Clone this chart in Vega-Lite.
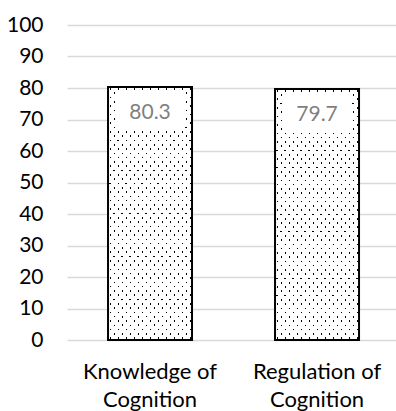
{
  "$schema": "https://vega.github.io/schema/vega-lite/v6.json",
  "autosize": "none",
  "width": 329,
  "height": 315,
  "padding": {"left": 67, "top": 25, "right": 0, "bottom": 71},
  "background": "white",
  "config": {"view": {"stroke": null}},
  "data": {
    "values": [
      {"component": "Knowledge of Cognition", "score": 80.3},
      {"component": "Regulation of Cognition", "score": 79.7}
    ]
  },
  "encoding": {
    "x": {
      "field": "component",
      "type": "nominal",
      "sort": null,
      "scale": {"paddingInner": 0.497, "paddingOuter": 0.2335, "align": 0.526},
      "axis": {
        "title": null,
        "domain": false,
        "ticks": false,
        "labelAngle": 0,
        "labelFont": "Lato",
        "labelFontSize": 22,
        "labelColor": "#000000",
        "labelBaseline": "top",
        "labelPadding": 21,
        "labelLineHeight": 28,
        "labelExpr": "[slice(datum.label, 0, indexof(datum.label, ' of ') + 3), slice(datum.label, indexof(datum.label, ' of ') + 4)]"
      }
    },
    "y": {
      "field": "score",
      "type": "quantitative",
      "scale": {"domain": [0, 100], "nice": false, "zero": true},
      "axis": {
        "title": null,
        "values": [0, 10, 20, 30, 40, 50, 60, 70, 80, 90, 100],
        "tickCount": 20,
        "labelOverlap": false,
        "domain": false,
        "ticks": false,
        "grid": true,
        "gridColor": "#d9d9d9",
        "gridWidth": 1.3,
        "labelFont": "Lato",
        "labelFontSize": 21,
        "labelColor": "#000000",
        "labelPadding": 24
      }
    }
  },
  "layer": [
    {
      "description": "Bar body, first family of diagonal black hairlines on white",
      "mark": {
        "type": "bar",
        "stroke": null,
        "fill": {
          "gradient": "linear",
          "x1": 0, "y1": 1, "x2": 0.42956, "y2": -0.20355,
          "stops": [
            {"offset": 0, "color": "#ffffff"},
            {"offset": 0.0097, "color": "#ffffff"}, {"offset": 0.0097, "color": "#000000"}, {"offset": 0.0153, "color": "#000000"}, {"offset": 0.0153, "color": "#ffffff"},
            {"offset": 0.0348, "color": "#ffffff"}, {"offset": 0.0348, "color": "#000000"}, {"offset": 0.0404, "color": "#000000"}, {"offset": 0.0404, "color": "#ffffff"},
            {"offset": 0.0598, "color": "#ffffff"}, {"offset": 0.0598, "color": "#000000"}, {"offset": 0.0654, "color": "#000000"}, {"offset": 0.0654, "color": "#ffffff"},
            {"offset": 0.0849, "color": "#ffffff"}, {"offset": 0.0849, "color": "#000000"}, {"offset": 0.0905, "color": "#000000"}, {"offset": 0.0905, "color": "#ffffff"},
            {"offset": 0.1099, "color": "#ffffff"}, {"offset": 0.1099, "color": "#000000"}, {"offset": 0.1155, "color": "#000000"}, {"offset": 0.1155, "color": "#ffffff"},
            {"offset": 0.1350, "color": "#ffffff"}, {"offset": 0.1350, "color": "#000000"}, {"offset": 0.1406, "color": "#000000"}, {"offset": 0.1406, "color": "#ffffff"},
            {"offset": 0.1600, "color": "#ffffff"}, {"offset": 0.1600, "color": "#000000"}, {"offset": 0.1656, "color": "#000000"}, {"offset": 0.1656, "color": "#ffffff"},
            {"offset": 0.1851, "color": "#ffffff"}, {"offset": 0.1851, "color": "#000000"}, {"offset": 0.1907, "color": "#000000"}, {"offset": 0.1907, "color": "#ffffff"},
            {"offset": 0.2101, "color": "#ffffff"}, {"offset": 0.2101, "color": "#000000"}, {"offset": 0.2157, "color": "#000000"}, {"offset": 0.2157, "color": "#ffffff"},
            {"offset": 0.2352, "color": "#ffffff"}, {"offset": 0.2352, "color": "#000000"}, {"offset": 0.2408, "color": "#000000"}, {"offset": 0.2408, "color": "#ffffff"},
            {"offset": 0.2602, "color": "#ffffff"}, {"offset": 0.2602, "color": "#000000"}, {"offset": 0.2658, "color": "#000000"}, {"offset": 0.2658, "color": "#ffffff"},
            {"offset": 0.2853, "color": "#ffffff"}, {"offset": 0.2853, "color": "#000000"}, {"offset": 0.2909, "color": "#000000"}, {"offset": 0.2909, "color": "#ffffff"},
            {"offset": 0.3103, "color": "#ffffff"}, {"offset": 0.3103, "color": "#000000"}, {"offset": 0.3159, "color": "#000000"}, {"offset": 0.3159, "color": "#ffffff"},
            {"offset": 0.3354, "color": "#ffffff"}, {"offset": 0.3354, "color": "#000000"}, {"offset": 0.3410, "color": "#000000"}, {"offset": 0.3410, "color": "#ffffff"},
            {"offset": 0.3604, "color": "#ffffff"}, {"offset": 0.3604, "color": "#000000"}, {"offset": 0.3660, "color": "#000000"}, {"offset": 0.3660, "color": "#ffffff"},
            {"offset": 0.3855, "color": "#ffffff"}, {"offset": 0.3855, "color": "#000000"}, {"offset": 0.3911, "color": "#000000"}, {"offset": 0.3911, "color": "#ffffff"},
            {"offset": 0.4105, "color": "#ffffff"}, {"offset": 0.4105, "color": "#000000"}, {"offset": 0.4161, "color": "#000000"}, {"offset": 0.4161, "color": "#ffffff"},
            {"offset": 0.4356, "color": "#ffffff"}, {"offset": 0.4356, "color": "#000000"}, {"offset": 0.4412, "color": "#000000"}, {"offset": 0.4412, "color": "#ffffff"},
            {"offset": 0.4606, "color": "#ffffff"}, {"offset": 0.4606, "color": "#000000"}, {"offset": 0.4662, "color": "#000000"}, {"offset": 0.4662, "color": "#ffffff"},
            {"offset": 0.4857, "color": "#ffffff"}, {"offset": 0.4857, "color": "#000000"}, {"offset": 0.4913, "color": "#000000"}, {"offset": 0.4913, "color": "#ffffff"},
            {"offset": 0.5107, "color": "#ffffff"}, {"offset": 0.5107, "color": "#000000"}, {"offset": 0.5163, "color": "#000000"}, {"offset": 0.5163, "color": "#ffffff"},
            {"offset": 0.5358, "color": "#ffffff"}, {"offset": 0.5358, "color": "#000000"}, {"offset": 0.5414, "color": "#000000"}, {"offset": 0.5414, "color": "#ffffff"},
            {"offset": 0.5608, "color": "#ffffff"}, {"offset": 0.5608, "color": "#000000"}, {"offset": 0.5664, "color": "#000000"}, {"offset": 0.5664, "color": "#ffffff"},
            {"offset": 0.5859, "color": "#ffffff"}, {"offset": 0.5859, "color": "#000000"}, {"offset": 0.5915, "color": "#000000"}, {"offset": 0.5915, "color": "#ffffff"},
            {"offset": 0.6109, "color": "#ffffff"}, {"offset": 0.6109, "color": "#000000"}, {"offset": 0.6165, "color": "#000000"}, {"offset": 0.6165, "color": "#ffffff"},
            {"offset": 0.6360, "color": "#ffffff"}, {"offset": 0.6360, "color": "#000000"}, {"offset": 0.6416, "color": "#000000"}, {"offset": 0.6416, "color": "#ffffff"},
            {"offset": 0.6611, "color": "#ffffff"}, {"offset": 0.6611, "color": "#000000"}, {"offset": 0.6667, "color": "#000000"}, {"offset": 0.6667, "color": "#ffffff"},
            {"offset": 0.6861, "color": "#ffffff"}, {"offset": 0.6861, "color": "#000000"}, {"offset": 0.6917, "color": "#000000"}, {"offset": 0.6917, "color": "#ffffff"},
            {"offset": 0.7112, "color": "#ffffff"}, {"offset": 0.7112, "color": "#000000"}, {"offset": 0.7168, "color": "#000000"}, {"offset": 0.7168, "color": "#ffffff"},
            {"offset": 0.7362, "color": "#ffffff"}, {"offset": 0.7362, "color": "#000000"}, {"offset": 0.7418, "color": "#000000"}, {"offset": 0.7418, "color": "#ffffff"},
            {"offset": 0.7613, "color": "#ffffff"}, {"offset": 0.7613, "color": "#000000"}, {"offset": 0.7669, "color": "#000000"}, {"offset": 0.7669, "color": "#ffffff"},
            {"offset": 0.7863, "color": "#ffffff"}, {"offset": 0.7863, "color": "#000000"}, {"offset": 0.7919, "color": "#000000"}, {"offset": 0.7919, "color": "#ffffff"},
            {"offset": 0.8114, "color": "#ffffff"}, {"offset": 0.8114, "color": "#000000"}, {"offset": 0.8170, "color": "#000000"}, {"offset": 0.8170, "color": "#ffffff"},
            {"offset": 0.8364, "color": "#ffffff"}, {"offset": 0.8364, "color": "#000000"}, {"offset": 0.8420, "color": "#000000"}, {"offset": 0.8420, "color": "#ffffff"},
            {"offset": 0.8615, "color": "#ffffff"}, {"offset": 0.8615, "color": "#000000"}, {"offset": 0.8671, "color": "#000000"}, {"offset": 0.8671, "color": "#ffffff"},
            {"offset": 0.8865, "color": "#ffffff"}, {"offset": 0.8865, "color": "#000000"}, {"offset": 0.8921, "color": "#000000"}, {"offset": 0.8921, "color": "#ffffff"},
            {"offset": 0.9116, "color": "#ffffff"}, {"offset": 0.9116, "color": "#000000"}, {"offset": 0.9172, "color": "#000000"}, {"offset": 0.9172, "color": "#ffffff"},
            {"offset": 0.9366, "color": "#ffffff"}, {"offset": 0.9366, "color": "#000000"}, {"offset": 0.9422, "color": "#000000"}, {"offset": 0.9422, "color": "#ffffff"},
            {"offset": 0.9617, "color": "#ffffff"}, {"offset": 0.9617, "color": "#000000"}, {"offset": 0.9673, "color": "#000000"}, {"offset": 0.9673, "color": "#ffffff"},
            {"offset": 0.9867, "color": "#ffffff"}, {"offset": 0.9867, "color": "#000000"}, {"offset": 0.9923, "color": "#000000"}, {"offset": 0.9923, "color": "#ffffff"},
            {"offset": 1, "color": "#ffffff"}
          ]
        }
      }
    },
    {
      "description": "White veil with hairline gaps along the crossing diagonal, leaving a staggered dot lattice",
      "mark": {
        "type": "bar",
        "stroke": null,
        "fill": {
          "gradient": "linear",
          "x1": 0, "y1": 0, "x2": 0.42956, "y2": 1.20355,
          "stops": [
            {"offset": 0, "color": "#ffffff"},
            {"offset": 0.0097, "color": "#ffffff"}, {"offset": 0.0097, "color": "rgba(255,255,255,0)"}, {"offset": 0.0153, "color": "rgba(255,255,255,0)"}, {"offset": 0.0153, "color": "#ffffff"},
            {"offset": 0.0348, "color": "#ffffff"}, {"offset": 0.0348, "color": "rgba(255,255,255,0)"}, {"offset": 0.0404, "color": "rgba(255,255,255,0)"}, {"offset": 0.0404, "color": "#ffffff"},
            {"offset": 0.0598, "color": "#ffffff"}, {"offset": 0.0598, "color": "rgba(255,255,255,0)"}, {"offset": 0.0654, "color": "rgba(255,255,255,0)"}, {"offset": 0.0654, "color": "#ffffff"},
            {"offset": 0.0849, "color": "#ffffff"}, {"offset": 0.0849, "color": "rgba(255,255,255,0)"}, {"offset": 0.0905, "color": "rgba(255,255,255,0)"}, {"offset": 0.0905, "color": "#ffffff"},
            {"offset": 0.1099, "color": "#ffffff"}, {"offset": 0.1099, "color": "rgba(255,255,255,0)"}, {"offset": 0.1155, "color": "rgba(255,255,255,0)"}, {"offset": 0.1155, "color": "#ffffff"},
            {"offset": 0.1350, "color": "#ffffff"}, {"offset": 0.1350, "color": "rgba(255,255,255,0)"}, {"offset": 0.1406, "color": "rgba(255,255,255,0)"}, {"offset": 0.1406, "color": "#ffffff"},
            {"offset": 0.1600, "color": "#ffffff"}, {"offset": 0.1600, "color": "rgba(255,255,255,0)"}, {"offset": 0.1656, "color": "rgba(255,255,255,0)"}, {"offset": 0.1656, "color": "#ffffff"},
            {"offset": 0.1851, "color": "#ffffff"}, {"offset": 0.1851, "color": "rgba(255,255,255,0)"}, {"offset": 0.1907, "color": "rgba(255,255,255,0)"}, {"offset": 0.1907, "color": "#ffffff"},
            {"offset": 0.2101, "color": "#ffffff"}, {"offset": 0.2101, "color": "rgba(255,255,255,0)"}, {"offset": 0.2157, "color": "rgba(255,255,255,0)"}, {"offset": 0.2157, "color": "#ffffff"},
            {"offset": 0.2352, "color": "#ffffff"}, {"offset": 0.2352, "color": "rgba(255,255,255,0)"}, {"offset": 0.2408, "color": "rgba(255,255,255,0)"}, {"offset": 0.2408, "color": "#ffffff"},
            {"offset": 0.2602, "color": "#ffffff"}, {"offset": 0.2602, "color": "rgba(255,255,255,0)"}, {"offset": 0.2658, "color": "rgba(255,255,255,0)"}, {"offset": 0.2658, "color": "#ffffff"},
            {"offset": 0.2853, "color": "#ffffff"}, {"offset": 0.2853, "color": "rgba(255,255,255,0)"}, {"offset": 0.2909, "color": "rgba(255,255,255,0)"}, {"offset": 0.2909, "color": "#ffffff"},
            {"offset": 0.3103, "color": "#ffffff"}, {"offset": 0.3103, "color": "rgba(255,255,255,0)"}, {"offset": 0.3159, "color": "rgba(255,255,255,0)"}, {"offset": 0.3159, "color": "#ffffff"},
            {"offset": 0.3354, "color": "#ffffff"}, {"offset": 0.3354, "color": "rgba(255,255,255,0)"}, {"offset": 0.3410, "color": "rgba(255,255,255,0)"}, {"offset": 0.3410, "color": "#ffffff"},
            {"offset": 0.3604, "color": "#ffffff"}, {"offset": 0.3604, "color": "rgba(255,255,255,0)"}, {"offset": 0.3660, "color": "rgba(255,255,255,0)"}, {"offset": 0.3660, "color": "#ffffff"},
            {"offset": 0.3855, "color": "#ffffff"}, {"offset": 0.3855, "color": "rgba(255,255,255,0)"}, {"offset": 0.3911, "color": "rgba(255,255,255,0)"}, {"offset": 0.3911, "color": "#ffffff"},
            {"offset": 0.4105, "color": "#ffffff"}, {"offset": 0.4105, "color": "rgba(255,255,255,0)"}, {"offset": 0.4161, "color": "rgba(255,255,255,0)"}, {"offset": 0.4161, "color": "#ffffff"},
            {"offset": 0.4356, "color": "#ffffff"}, {"offset": 0.4356, "color": "rgba(255,255,255,0)"}, {"offset": 0.4412, "color": "rgba(255,255,255,0)"}, {"offset": 0.4412, "color": "#ffffff"},
            {"offset": 0.4606, "color": "#ffffff"}, {"offset": 0.4606, "color": "rgba(255,255,255,0)"}, {"offset": 0.4662, "color": "rgba(255,255,255,0)"}, {"offset": 0.4662, "color": "#ffffff"},
            {"offset": 0.4857, "color": "#ffffff"}, {"offset": 0.4857, "color": "rgba(255,255,255,0)"}, {"offset": 0.4913, "color": "rgba(255,255,255,0)"}, {"offset": 0.4913, "color": "#ffffff"},
            {"offset": 0.5107, "color": "#ffffff"}, {"offset": 0.5107, "color": "rgba(255,255,255,0)"}, {"offset": 0.5163, "color": "rgba(255,255,255,0)"}, {"offset": 0.5163, "color": "#ffffff"},
            {"offset": 0.5358, "color": "#ffffff"}, {"offset": 0.5358, "color": "rgba(255,255,255,0)"}, {"offset": 0.5414, "color": "rgba(255,255,255,0)"}, {"offset": 0.5414, "color": "#ffffff"},
            {"offset": 0.5608, "color": "#ffffff"}, {"offset": 0.5608, "color": "rgba(255,255,255,0)"}, {"offset": 0.5664, "color": "rgba(255,255,255,0)"}, {"offset": 0.5664, "color": "#ffffff"},
            {"offset": 0.5859, "color": "#ffffff"}, {"offset": 0.5859, "color": "rgba(255,255,255,0)"}, {"offset": 0.5915, "color": "rgba(255,255,255,0)"}, {"offset": 0.5915, "color": "#ffffff"},
            {"offset": 0.6109, "color": "#ffffff"}, {"offset": 0.6109, "color": "rgba(255,255,255,0)"}, {"offset": 0.6165, "color": "rgba(255,255,255,0)"}, {"offset": 0.6165, "color": "#ffffff"},
            {"offset": 0.6360, "color": "#ffffff"}, {"offset": 0.6360, "color": "rgba(255,255,255,0)"}, {"offset": 0.6416, "color": "rgba(255,255,255,0)"}, {"offset": 0.6416, "color": "#ffffff"},
            {"offset": 0.6611, "color": "#ffffff"}, {"offset": 0.6611, "color": "rgba(255,255,255,0)"}, {"offset": 0.6667, "color": "rgba(255,255,255,0)"}, {"offset": 0.6667, "color": "#ffffff"},
            {"offset": 0.6861, "color": "#ffffff"}, {"offset": 0.6861, "color": "rgba(255,255,255,0)"}, {"offset": 0.6917, "color": "rgba(255,255,255,0)"}, {"offset": 0.6917, "color": "#ffffff"},
            {"offset": 0.7112, "color": "#ffffff"}, {"offset": 0.7112, "color": "rgba(255,255,255,0)"}, {"offset": 0.7168, "color": "rgba(255,255,255,0)"}, {"offset": 0.7168, "color": "#ffffff"},
            {"offset": 0.7362, "color": "#ffffff"}, {"offset": 0.7362, "color": "rgba(255,255,255,0)"}, {"offset": 0.7418, "color": "rgba(255,255,255,0)"}, {"offset": 0.7418, "color": "#ffffff"},
            {"offset": 0.7613, "color": "#ffffff"}, {"offset": 0.7613, "color": "rgba(255,255,255,0)"}, {"offset": 0.7669, "color": "rgba(255,255,255,0)"}, {"offset": 0.7669, "color": "#ffffff"},
            {"offset": 0.7863, "color": "#ffffff"}, {"offset": 0.7863, "color": "rgba(255,255,255,0)"}, {"offset": 0.7919, "color": "rgba(255,255,255,0)"}, {"offset": 0.7919, "color": "#ffffff"},
            {"offset": 0.8114, "color": "#ffffff"}, {"offset": 0.8114, "color": "rgba(255,255,255,0)"}, {"offset": 0.8170, "color": "rgba(255,255,255,0)"}, {"offset": 0.8170, "color": "#ffffff"},
            {"offset": 0.8364, "color": "#ffffff"}, {"offset": 0.8364, "color": "rgba(255,255,255,0)"}, {"offset": 0.8420, "color": "rgba(255,255,255,0)"}, {"offset": 0.8420, "color": "#ffffff"},
            {"offset": 0.8615, "color": "#ffffff"}, {"offset": 0.8615, "color": "rgba(255,255,255,0)"}, {"offset": 0.8671, "color": "rgba(255,255,255,0)"}, {"offset": 0.8671, "color": "#ffffff"},
            {"offset": 0.8865, "color": "#ffffff"}, {"offset": 0.8865, "color": "rgba(255,255,255,0)"}, {"offset": 0.8921, "color": "rgba(255,255,255,0)"}, {"offset": 0.8921, "color": "#ffffff"},
            {"offset": 0.9116, "color": "#ffffff"}, {"offset": 0.9116, "color": "rgba(255,255,255,0)"}, {"offset": 0.9172, "color": "rgba(255,255,255,0)"}, {"offset": 0.9172, "color": "#ffffff"},
            {"offset": 0.9366, "color": "#ffffff"}, {"offset": 0.9366, "color": "rgba(255,255,255,0)"}, {"offset": 0.9422, "color": "rgba(255,255,255,0)"}, {"offset": 0.9422, "color": "#ffffff"},
            {"offset": 0.9617, "color": "#ffffff"}, {"offset": 0.9617, "color": "rgba(255,255,255,0)"}, {"offset": 0.9673, "color": "rgba(255,255,255,0)"}, {"offset": 0.9673, "color": "#ffffff"},
            {"offset": 0.9867, "color": "#ffffff"}, {"offset": 0.9867, "color": "rgba(255,255,255,0)"}, {"offset": 0.9923, "color": "rgba(255,255,255,0)"}, {"offset": 0.9923, "color": "#ffffff"},
            {"offset": 1, "color": "#ffffff"}
          ]
        }
      }
    },
    {
      "description": "Bar outline",
      "mark": {"type": "bar", "fill": "transparent", "stroke": "#000000", "strokeWidth": 2}
    },
    {
      "mark": {"type": "bar", "fill": "#ffffff", "width": {"band": 0.83}, "yOffset": 5, "y2Offset": 43},
      "encoding": {
        "y2": {"field": "score"}
      }
    },
    {
      "mark": {"type": "text", "font": "Lato", "fontSize": 21, "color": "#7f7f7f", "baseline": "middle", "dy": 26},
      "encoding": {
        "text": {"field": "score", "type": "quantitative", "format": ".1f"}
      }
    }
  ]
}
